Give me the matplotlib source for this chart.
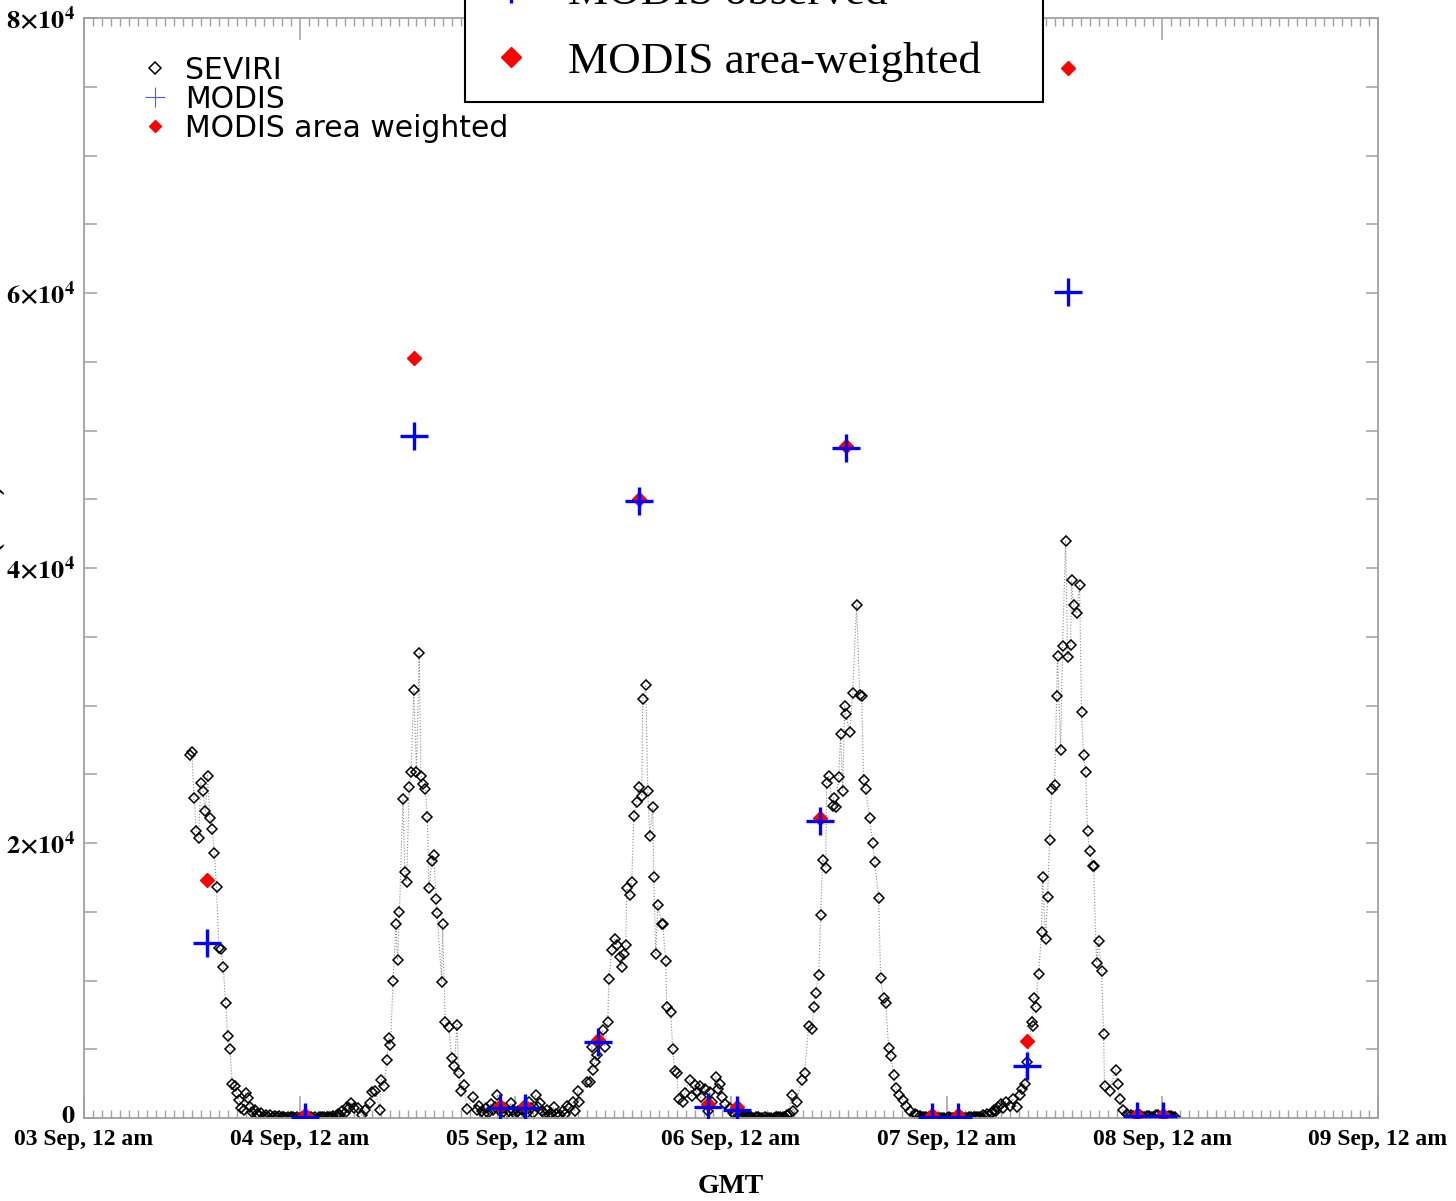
import numpy as np
import matplotlib
matplotlib.use('Agg')
import matplotlib.pyplot as plt
from matplotlib.lines import Line2D
from matplotlib.patches import Rectangle
from matplotlib.ticker import MultipleLocator
from matplotlib.transforms import ScaledTranslation

plt.rcParams['mathtext.fontset'] = 'stix'

# SEVIRI FRP, hours since 03 Sep 00:00 GMT and MW, split by day
sev_t1 = [11.75, 12.0, 12.25, 12.5, 12.75, 13.0, 13.25, 13.5, 13.75, 14.0, 14.25, 14.5, 14.75,
          15.0, 15.25, 15.5, 15.75, 16.0, 16.25, 16.5, 16.75, 17.0, 17.25, 17.5, 17.75, 18.0,
          18.25, 18.5, 18.75, 19.0, 19.25, 19.5, 19.75, 20.0, 20.25, 20.5, 20.75, 21.0, 21.25,
          21.5, 21.75, 22.0, 22.25, 22.5, 22.75, 23.0, 23.25, 23.5, 23.75, 24.0, 24.25, 24.5,
          24.75, 25.0, 25.25, 25.5, 25.75, 26.0, 26.25, 26.5, 26.75, 27.0, 27.25, 27.5, 27.75,
          28.0, 28.25, 28.5, 28.75, 29.0, 29.25, 29.5, 29.75, 30.0]
sev_v1 = [26400, 26600, 23300, 20900, 20400, 24400, 23800, 22300, 24900, 21800, 21000, 19300, 16800,
          12400, 12300, 11000, 8400, 6000, 5000, 2500, 2300, 1800, 1300, 700, 600, 1800,
          1450, 800, 450, 600, 300, 200, 350, 150, 250, 100, 200, 80, 150,
          50, 120, 60, 100, 30, 80, 40, 60, 20, 50, 30, 40, 20,
          60, 30, 50, 20, 40, 30, 60, 40, 80, 60, 100, 80, 150,
          120, 300, 200, 500, 400, 800, 700, 1100, 700]

sev_t2 = [30.5, 30.9, 31.3, 31.8, 32.0, 32.4, 32.9, 33.1, 33.4, 33.7, 33.9, 34.1, 34.4, 34.7, 34.9,
          35.1, 35.5, 35.7, 35.9, 36.2, 36.4, 36.7, 37.0, 37.3, 37.5, 37.7, 38.0, 38.2, 38.4, 38.7,
          38.9, 39.2, 39.3, 39.8, 39.9, 40.2, 40.6, 40.9, 41.2, 41.5, 41.7, 42.0, 42.3, 42.6, 43.3, 43.7]
sev_v2 = [700, 200, 600, 1100, 1900, 2000, 600, 2800, 2300, 4200, 5800, 5300, 10000, 14100, 11500,
          15000, 23200, 17900, 17200, 24100, 25200, 31100, 25200, 33800, 24900, 24300, 23900, 21900, 16700, 18700,
          19100, 15900, 14900, 9900, 14100, 7000, 6600, 4400, 3800, 6800, 3300, 2000, 2400, 650, 1500, 600]

sev_t3 = [44.0, 44.25, 44.5, 44.75, 45.0, 45.25, 45.5, 45.75, 46.0, 46.25, 46.5, 46.75, 47.0, 47.25,
          47.5, 47.75, 48.0, 48.25, 48.5, 48.75, 49.0, 49.25, 49.5, 49.75, 50.0, 50.25, 50.5, 50.75,
          51.0, 51.25, 51.5, 51.75, 52.0, 52.25, 52.5, 52.75, 53.0, 53.25, 53.5, 53.75, 54.0]
sev_v3 = [900, 500, 300, 700, 400, 1000, 600, 800, 1700, 900, 400, 700, 300, 500,
          1100, 600, 300, 500, 200, 600, 900, 400, 1200, 700, 400, 1700, 800, 1100,
          500, 300, 600, 200, 400, 800, 300, 100, 200, 500, 300, 900, 700]

sev_t4 = [54.39, 54.62, 54.95, 55.06, 55.95, 56.28, 56.51, 56.62, 56.84, 57.06, 57.73, 57.95, 58.29,
          58.40, 58.73, 59.07, 59.29, 59.62, 59.84, 60.07, 60.29, 60.40, 60.73, 60.96, 61.18, 61.51,
          61.74, 62.07, 62.18, 62.51, 62.74, 62.96, 63.29, 63.40, 63.63, 63.85, 64.29, 64.40, 64.74,
          64.85, 65.29, 65.52, 65.74, 65.96, 66.18, 66.63, 66.85, 67.41, 67.63, 67.97, 68.19, 68.52,
          68.63, 69.08, 69.41, 69.63, 69.85, 70.30, 70.52, 70.75, 70.97, 71.30, 71.86, 72.19]
sev_v4 = [1200, 500, 2000, 1200, 2600, 2600, 5200, 3500, 4100, 4600, 6400, 5200, 7000,
          10100, 12200, 13000, 12600, 11700, 11000, 11900, 12600, 16700, 16200, 17200, 22000, 23000,
          24100, 23400, 30500, 31500, 23800, 20500, 22600, 17500, 11900, 15500, 14100, 14100, 11400,
          8100, 7700, 5000, 3400, 3300, 1400, 1200, 1800, 2800, 1600, 2400, 1900, 2300,
          1500, 2100, 500, 1900, 1200, 3000, 2100, 2500, 1500, 1000, 700, 400]

sev_t5 = [72.5, 72.75, 73.0, 73.25, 73.5, 73.75, 74.0, 74.25, 74.5, 74.75, 75.0, 75.25, 75.5,
          75.75, 76.0, 76.25, 76.5, 76.75, 77.0, 77.25, 77.5, 77.75, 78.0, 78.2, 78.4,
          78.75, 78.87, 79.31, 79.87, 80.20, 80.64, 80.98, 81.20, 81.42, 81.76, 81.98, 82.20, 82.54,
          82.65, 82.87, 83.31, 83.43, 83.65, 83.98, 84.20, 84.43, 84.65, 84.76, 85.21, 85.54, 85.98,
          86.32, 86.54, 86.76, 86.99, 87.43, 87.76, 87.99, 88.43, 88.65, 88.99, 89.21, 89.54, 89.77,
          90.10, 90.32, 90.66, 91.10, 91.43, 91.88, 92.44]
sev_v5 = [200, 150, 100, 80, 50, 60, 60, 40, 30, 50, 40, 30, 20, 40, 30, 20, 20, 30, 40, 50,
          60, 80, 100, 200, 300,
          1700, 500, 1200, 2800, 3300, 6700, 6500, 8100, 9100, 10400, 14800, 18800, 18200,
          24400, 24900, 22700, 23300, 22600, 24800, 27900, 23800, 30000, 29400, 28100, 30900, 37300,
          30800, 30700, 24600, 23900, 21800, 20000, 18600, 16000, 10200, 8700, 8400, 5100, 4500,
          3100, 2200, 1700, 1300, 900, 500, 300]

sev_t6 = [92.75, 93.0, 93.25, 93.5, 93.75, 94.0, 94.25, 94.5, 94.75, 95.0, 95.25, 95.5, 95.75,
          96.0, 96.25, 96.5, 96.75, 97.0, 97.25, 97.5, 97.75, 98.0, 98.25, 98.5, 98.75, 99.0,
          99.25, 99.5, 99.75, 100.0, 100.25, 100.5, 100.75, 101.0, 101.25, 101.5, 101.75, 102.0,
          102.25, 102.56, 103.00, 103.34, 103.78, 104.11, 104.34, 104.67,
          104.89, 105.45, 105.56, 105.67, 105.90, 106.23, 106.56, 106.67, 107.01, 107.23, 107.45,
          107.68, 108.01, 108.23, 108.34, 108.68, 108.90, 109.23, 109.46, 109.79, 109.90, 110.12,
          110.46, 110.79, 111.01, 111.23, 111.46, 111.68, 111.90, 112.24, 112.35, 112.68, 112.90,
          113.24, 113.46, 113.57, 114.13, 114.79, 115.02, 115.24, 115.57, 116.02]
sev_v6 = [200, 150, 100, 80, 60, 40, 50, 30, 40, 20, 30, 20, 30, 20, 40, 30, 20, 20, 30, 20,
          40, 30, 20, 40, 50, 60, 80, 100, 80, 200, 150, 300, 200, 400, 600, 500, 800, 1000,
          700, 1200, 900, 1400, 800, 1700, 2100, 2500,
          4100, 7000, 6700, 8700, 8100, 10500, 13500, 17500, 13000, 16100, 20200,
          23900, 24200, 30700, 33600, 26800, 34300, 42000, 33500, 34400, 39100, 37300,
          36700, 38800, 29500, 26400, 25200, 20900, 19400, 18300, 18300, 11300, 12900,
          10700, 6100, 2300, 2000, 3500, 2500, 1400, 600, 300]

sev_t7 = [116.5, 116.75, 117.0, 117.25, 117.5, 117.75, 118.0, 118.25, 118.5, 118.75, 119.0,
          119.25, 119.5, 119.75, 120.0, 120.25, 120.5, 120.75, 121.0, 121.2, 121.4]
sev_v7 = [200, 120, 100, 300, 250, 100, 80, 150, 150, 60, 60, 200, 200, 80, 100, 40, 50,
          150, 120, 60, 60]

# MODIS overpasses
modis_t = [13.68, 24.58, 36.71, 46.27, 49.05, 57.17, 61.74, 69.41, 72.64, 81.87, 84.76,
           94.33, 97.22, 104.89, 109.45, 117.13, 120.02]
modis_obs = [12700, 100, 49600, 700, 700, 5500, 44900, 800, 600, 21600, 48700,
             100, 100, 3800, 60100, 150, 150]
modis_aw = [17300, 200, 55300, 900, 900, 5700, 45000, 1000, 800, 21800, 48900,
            200, 200, 5600, 76400, 200, 200]

day_ticks = [0, 24, 48, 72, 96, 120, 144]
day_labels = ['03 Sep, 12 am', '04 Sep, 12 am', '05 Sep, 12 am', '06 Sep, 12 am',
              '07 Sep, 12 am', '08 Sep, 12 am', '09 Sep, 12 am']
y_ticks = [0, 20000, 40000, 60000, 80000]
y_labels = [r'$\mathbf{0}$', r'$\mathbf{2{\times}10^4}$', r'$\mathbf{4{\times}10^4}$',
            r'$\mathbf{6{\times}10^4}$', r'$\mathbf{8{\times}10^4}$']

sev_t = np.concatenate([sev_t1, sev_t2, sev_t3, sev_t4, sev_t5, sev_t6, sev_t7])
sev_v = np.concatenate([sev_v1, sev_v2, sev_v3, sev_v4, sev_v5, sev_v6, sev_v7])

W, H = 1456, 1201
fig = plt.figure(figsize=(W / 100, H / 100), dpi=100)
ax = fig.add_axes([84 / W, 1 - 1118 / H, 1294 / W, 1100 / H])

ax.plot(sev_t, sev_v, color='#888888', lw=0.8, ls=':', marker='D', ms=5.5,
        mfc='none', mec='black', mew=1.1, zorder=2)
ax.plot(modis_t, modis_aw, ls='none', marker='D', ms=7, color='red', zorder=3)
ax.plot(modis_t, modis_obs, ls='none', marker='+', ms=20, mew=2.4, color='blue', zorder=4)

ax.set_xlim(0, 144)
ax.set_ylim(0, 80000)

grey = '#a0a0a0'
for s in ax.spines.values():
    s.set_color(grey)
    s.set_linewidth(1.3)

ax.set_xticks(day_ticks)
ax.set_xticklabels(day_labels)
ax.xaxis.set_minor_locator(MultipleLocator(1))
ax.set_yticks(y_ticks)
ax.set_yticklabels(y_labels)
ax.yaxis.set_minor_locator(MultipleLocator(5000))
ax.tick_params(axis='x', which='major', direction='in', length=16, width=1.1, color=grey,
               top=True, pad=8)
ax.tick_params(axis='x', which='minor', direction='in', length=6, width=1.0, color=grey, top=True)
ax.tick_params(axis='y', which='both', direction='in', length=9, width=1.1, color=grey,
               right=True, pad=6)
for lab in ax.get_xticklabels():
    lab.set_fontfamily('Liberation Serif')
    lab.set_fontweight('bold')
    lab.set_fontsize(17)
for lab in ax.get_yticklabels():
    lab.set_fontsize(19)
# the zero label sits a little above its tick
zero_lab = ax.get_yticklabels()[0]
zero_lab.set_transform(zero_lab.get_transform() + ScaledTranslation(0, 5 / 100, fig.dpi_scale_trans))

ax.set_xlabel('GMT', fontfamily='Liberation Serif', fontweight='bold', fontsize=20, labelpad=17)
fig.text(6 / W, 1 - 545 / H, 'FRP (MW)', rotation=90, ha='right', va='center',
         fontfamily='Liberation Serif', fontweight='bold', fontsize=18)

# inner legend
h_sev = Line2D([], [], ls='none', marker='D', ms=6.5, mfc='none', mec='black', mew=1.1)
h_mod = Line2D([], [], ls='none', marker='+', ms=15, mew=0.8, color='#5555ff')
h_aw = Line2D([], [], ls='none', marker='D', ms=6.5, color='red')
ax.legend([h_sev, h_mod, h_aw], ['SEVIRI', 'MODIS', 'MODIS area weighted'],
          loc='upper left', bbox_to_anchor=(0.024, 0.99), frameon=False,
          prop={'family': 'DejaVu Sans', 'size': 21.5}, handlelength=0.9,
          handletextpad=0.55, labelspacing=0.0, borderpad=0.4, numpoints=1)

# outer legend, overflowing the top edge
fig.patches.append(Rectangle((465 / W, 1 - 102 / H), 578 / W, 0.2, transform=fig.transFigure,
                             facecolor='white', edgecolor='black', lw=1.5, zorder=4.9))
g_mod = Line2D([], [], ls='none', marker='+', ms=20, mew=2.4, color='blue')
g_aw = Line2D([], [], ls='none', marker='D', ms=10, color='red')
fig.legend([g_mod, g_aw], ['MODIS observed', 'MODIS area-weighted'],
           loc='lower left', bbox_to_anchor=(470 / W, 1 - 100 / H),
           prop={'family': 'Liberation Serif', 'size': 32.5}, frameon=False,
           handlelength=1.0, handletextpad=0.78, labelspacing=0.62, borderpad=0.4,
           borderaxespad=0, numpoints=1)

fig.savefig('out.png', dpi=100)
